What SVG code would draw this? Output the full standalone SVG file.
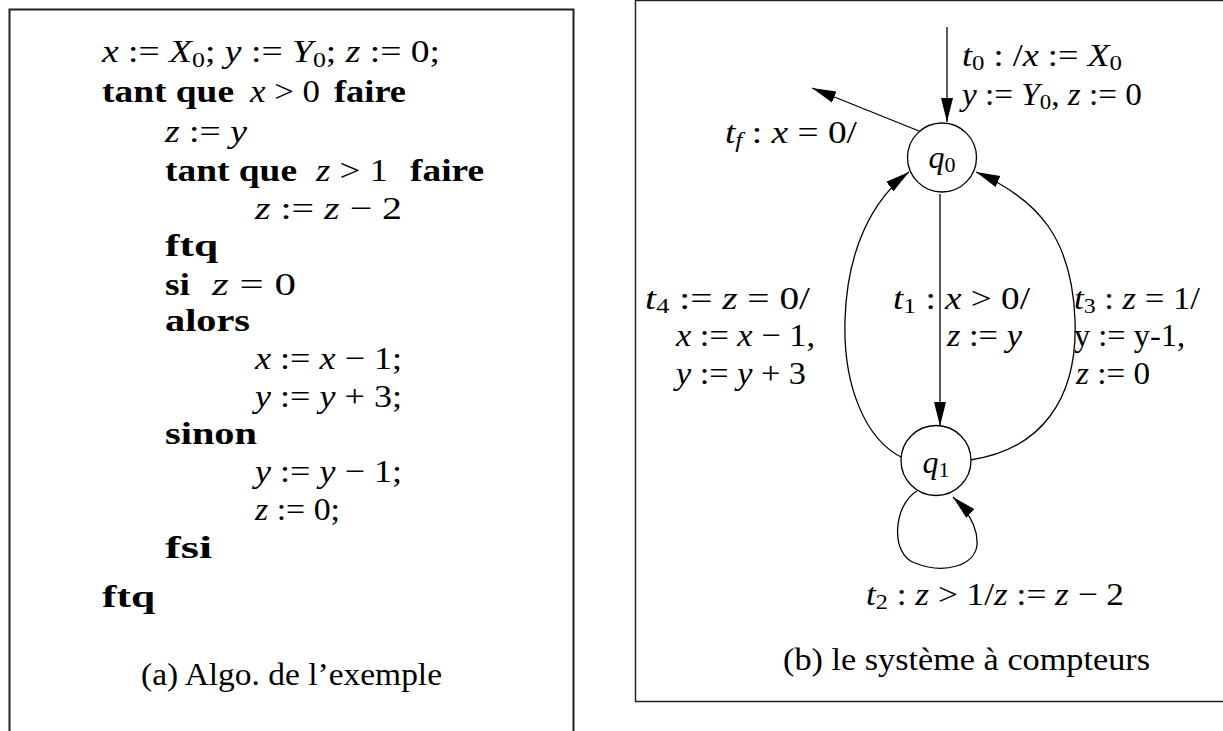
<svg xmlns="http://www.w3.org/2000/svg" width="1223" height="731" viewBox="0 0 1223 731">
<style>
.t{font-family:"Liberation Serif","Times New Roman",serif;font-size:32px;fill:#000}
.i{font-style:italic}
.b{font-weight:bold}
.s{font-size:22px}
.frame{fill:none;stroke:#222}
.edge{fill:none;stroke:#000;stroke-width:1.3}
.node{fill:#fff;stroke:#000;stroke-width:1.3}
</style>
<defs>
<marker id="ah" markerUnits="userSpaceOnUse" markerWidth="25" markerHeight="14" viewBox="0 0 25 14" refX="24" refY="7" orient="auto">
<path d="M0,1 L24,7 L0,13 z" fill="#000"/>
</marker>
</defs>
<rect width="1223" height="731" fill="#fff"/>
<g id="panel-a">
<rect class="frame" x="9.5" y="9.5" width="564" height="800" stroke-width="2"/>
<g class="t">
<text x="102" y="62" textLength="338" lengthAdjust="spacingAndGlyphs"><tspan class="i">x</tspan> := <tspan class="i">X</tspan><tspan class="s" dy="5">0</tspan><tspan dy="-5">; </tspan><tspan class="i">y</tspan> := <tspan class="i">Y</tspan><tspan class="s" dy="5">0</tspan><tspan dy="-5">; </tspan><tspan class="i">z</tspan> := 0;</text>
<text x="102" y="102" textLength="132" lengthAdjust="spacingAndGlyphs" class="b">tant que</text>
<text x="250" y="102" textLength="70" lengthAdjust="spacingAndGlyphs"><tspan class="i">x</tspan> &gt; 0</text>
<text x="334" y="102" textLength="72" lengthAdjust="spacingAndGlyphs" class="b">faire</text>
<text x="165" y="142" textLength="82" lengthAdjust="spacingAndGlyphs"><tspan class="i">z</tspan> := <tspan class="i">y</tspan></text>
<text x="165" y="181" textLength="132" lengthAdjust="spacingAndGlyphs" class="b">tant que</text>
<text x="316" y="181" textLength="72" lengthAdjust="spacingAndGlyphs"><tspan class="i">z</tspan> &gt; 1</text>
<text x="410" y="181" textLength="74" lengthAdjust="spacingAndGlyphs" class="b">faire</text>
<text x="255" y="219" textLength="147" lengthAdjust="spacingAndGlyphs"><tspan class="i">z</tspan> := <tspan class="i">z</tspan> − 2</text>
<text x="165" y="256" textLength="53" lengthAdjust="spacingAndGlyphs" class="b">ftq</text>
<text x="165" y="295" textLength="25" lengthAdjust="spacingAndGlyphs" class="b">si</text>
<text x="212" y="295" textLength="84" lengthAdjust="spacingAndGlyphs"><tspan class="i">z</tspan> = 0</text>
<text x="165" y="331" textLength="85" lengthAdjust="spacingAndGlyphs" class="b">alors</text>
<text x="255" y="369" textLength="147" lengthAdjust="spacingAndGlyphs"><tspan class="i">x</tspan> := <tspan class="i">x</tspan> − 1;</text>
<text x="255" y="407" textLength="147" lengthAdjust="spacingAndGlyphs"><tspan class="i">y</tspan> := <tspan class="i">y</tspan> + 3;</text>
<text x="165" y="444" textLength="92" lengthAdjust="spacingAndGlyphs" class="b">sinon</text>
<text x="255" y="482" textLength="147" lengthAdjust="spacingAndGlyphs"><tspan class="i">y</tspan> := <tspan class="i">y</tspan> − 1;</text>
<text x="255" y="520" textLength="85" lengthAdjust="spacingAndGlyphs"><tspan class="i">z</tspan> := 0;</text>
<text x="165" y="558" textLength="47" lengthAdjust="spacingAndGlyphs" class="b">fsi</text>
<text x="102" y="607" textLength="53" lengthAdjust="spacingAndGlyphs" class="b">ftq</text>
<text x="141" y="685" textLength="301" lengthAdjust="spacingAndGlyphs">(a) Algo. de l’exemple</text>
</g>
</g>
<g id="panel-b">
<rect class="frame" x="635.5" y="0.5" width="620" height="701" stroke-width="1.5"/>
<text class="t" x="783" y="670" textLength="367" lengthAdjust="spacingAndGlyphs">(b) le système à compteurs</text>
</g>
<g id="connectors">
<path id="t0" class="edge" d="M947,27 L947,122" marker-end="url(#ah)"/>
<path id="tf" class="edge" d="M924,133 L812,88" marker-end="url(#ah)"/>
<path id="t1" class="edge" d="M940,194 L940,426" marker-end="url(#ah)"/>
<path id="t4" class="edge" d="M903,458 C865,440 843,385 845,320 C847,250 872,200 909,172" marker-end="url(#ah)"/>
<path id="t3" class="edge" d="M970,460 C1040,450 1078,400 1075,320 C1072,240 1040,200 976,172" marker-end="url(#ah)"/>
<path id="t2" class="edge" d="M917,491 C893,505 890,555 915,563 C945,575 975,565 977,545 C978,530 972,515 953,497" marker-end="url(#ah)"/>
</g>
<g id="q0">
<circle class="node" cx="942" cy="157.5" r="34.5"/>
<text class="t" x="942" y="168" text-anchor="middle"><tspan class="i">q</tspan><tspan class="s" dy="4">0</tspan></text>
</g>
<g id="q1">
<circle class="node" cx="936" cy="460.5" r="35"/>
<text class="t" x="936" y="473" text-anchor="middle"><tspan class="i">q</tspan><tspan class="s" dy="4">1</tspan></text>
</g>
<g id="labels" class="t">
<text x="962" y="66" textLength="160" lengthAdjust="spacingAndGlyphs"><tspan class="i">t</tspan><tspan class="s" dy="4">0</tspan><tspan dy="-4"> : /</tspan><tspan class="i">x</tspan> := <tspan class="i">X</tspan><tspan class="s" dy="4">0</tspan></text>
<text x="962" y="105" textLength="180" lengthAdjust="spacingAndGlyphs"><tspan class="i">y</tspan> := <tspan class="i">Y</tspan><tspan class="s" dy="4">0</tspan><tspan dy="-4">, </tspan><tspan class="i">z</tspan> := 0</text>
<text x="725" y="143" textLength="132" lengthAdjust="spacingAndGlyphs"><tspan class="i">t</tspan><tspan class="s i" dy="4">f</tspan><tspan dy="-4"> : </tspan><tspan class="i">x</tspan> = 0/</text>
<text x="645" y="309" textLength="165" lengthAdjust="spacingAndGlyphs"><tspan class="i">t</tspan><tspan class="s" dy="4">4</tspan><tspan dy="-4"> := </tspan><tspan class="i">z</tspan> = 0/</text>
<text x="676" y="346" textLength="139" lengthAdjust="spacingAndGlyphs"><tspan class="i">x</tspan> := <tspan class="i">x</tspan> − 1,</text>
<text x="676" y="384" textLength="130" lengthAdjust="spacingAndGlyphs"><tspan class="i">y</tspan> := <tspan class="i">y</tspan> + 3</text>
<text x="893" y="309" textLength="137" lengthAdjust="spacingAndGlyphs"><tspan class="i">t</tspan><tspan class="s" dy="4">1</tspan><tspan dy="-4"> : </tspan><tspan class="i">x</tspan> &gt; 0/</text>
<text x="947" y="346" textLength="75" lengthAdjust="spacingAndGlyphs"><tspan class="i">z</tspan> := <tspan class="i">y</tspan></text>
<text x="1074" y="309" textLength="126" lengthAdjust="spacingAndGlyphs"><tspan class="i">t</tspan><tspan class="s" dy="4">3</tspan><tspan dy="-4"> : </tspan><tspan class="i">z</tspan> = 1/</text>
<text x="1074" y="346" textLength="111" lengthAdjust="spacingAndGlyphs">y := y-1,</text>
<text x="1076" y="384" textLength="74" lengthAdjust="spacingAndGlyphs"><tspan class="i">z</tspan> := 0</text>
<text x="866" y="605" textLength="258" lengthAdjust="spacingAndGlyphs"><tspan class="i">t</tspan><tspan class="s" dy="4">2</tspan><tspan dy="-4"> : </tspan><tspan class="i">z</tspan> &gt; 1/<tspan class="i">z</tspan> := <tspan class="i">z</tspan> − 2</text>
</g>
</svg>
